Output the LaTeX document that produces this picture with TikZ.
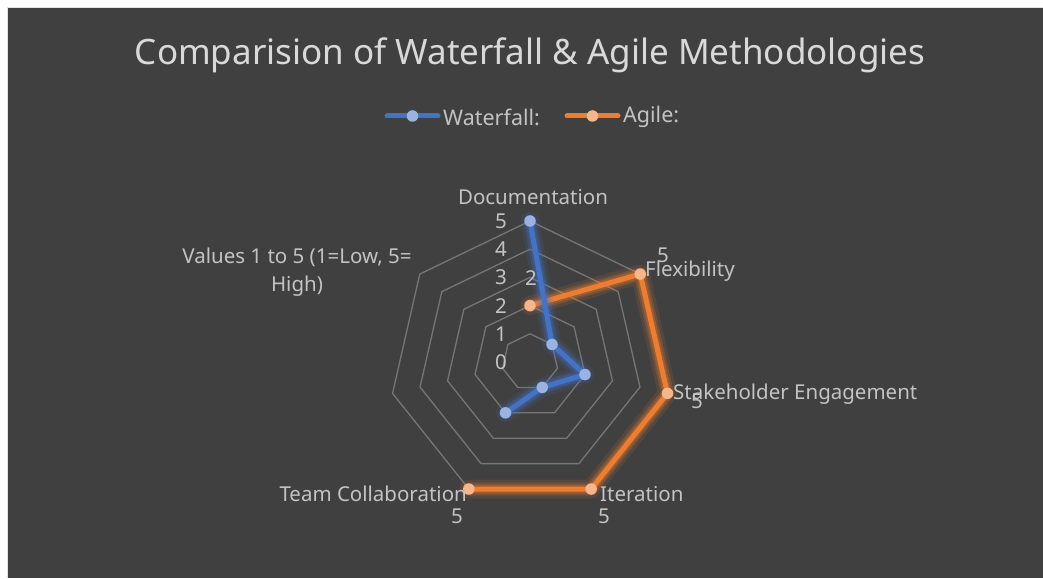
\documentclass[tikz,border=0pt]{standalone}
\usepackage{fontspec}
\setmainfont{Noto Sans}
\definecolor{bg}{HTML}{404040}
\definecolor{gridc}{HTML}{767676}
\definecolor{titlec}{HTML}{D9D9D9}
\definecolor{labc}{HTML}{C3C3C3}
\definecolor{wblue}{HTML}{4472C4}
\definecolor{wblueM}{HTML}{9AB3E2}
\definecolor{aorange}{HTML}{ED7D31}
\definecolor{aorangeM}{HTML}{F6B68C}
\tikzset{
  gridline/.style={draw=gridc, line width=1.3pt, line join=round},
  lab/.style={text=labc, font=\fontsize{20.5}{24}\selectfont, inner sep=0pt},
  serline/.style={line width=5pt, line join=round, line cap=round},
  glow/.style={line width=19pt, line join=round, line cap=round, opacity=0.12},
  glowb/.style={line width=13pt, line join=round, line cap=round, opacity=0.2},
  glowc/.style={line width=9pt, line join=round, line cap=round, opacity=0.3},
  wmark/.style={circle, fill=wblueM, minimum size=11.5pt, inner sep=0pt},
  amark/.style={circle, fill=aorangeM, minimum size=11.5pt, inner sep=0pt},
}
\begin{document}
\begin{tikzpicture}[x=1pt, y=1pt]
\useasboundingbox (0,0) rectangle (1043,578);
\fill[white] (0,0) rectangle (1043,578);
\fill[bg] (8,0) rectangle (1043,570);
\draw[titlec!80!white, line width=1pt] (7.5,0) -- (7.5,570.5) -- (1043,570.5);
% title
\node[text=titlec, font=\fontsize{35}{40}\selectfont, inner sep=0pt] (title) at (530,523) {Comparision of Waterfall \& Agile Methodologies};
% legend
\coordinate (lw1) at (387,462); \coordinate (lw2) at (438,462);
\coordinate (la1) at (567,462); \coordinate (la2) at (618,462);
\draw[wblue, serline] (lw1) -- (lw2);
\node[wmark] (lwm) at (412.5,462) {};
\node[lab, anchor=west, font=\fontsize{21.5}{24}\selectfont] (lwt) at (443,461) {Waterfall:};
\draw[aorange, serline] (la1) -- (la2);
\node[amark] (lam) at (592.5,462) {};
\node[lab, anchor=west, font=\fontsize{21.5}{24}\selectfont] (lat) at (623,461) {Agile:};
% radar grid
\begin{scope}[shift={(530,216)}]
\foreach \v in {1,...,5}{
  \draw[gridline] (90:\v*28.2pt) \foreach \k in {1,...,6}{ -- ({90-\k*360/7}:\v*28.2pt)} -- cycle;
}
% tick labels
\foreach \v in {0,...,5}{
  \node[lab, anchor=east] (tick\v) at (-23,\v*28.2) {\v};
}
% waterfall points
\coordinate (w0) at (90:5*28.2pt);
\coordinate (w1) at ({90-360/7}:1*28.2pt);
\coordinate (w2) at ({90-2*360/7}:2*28.2pt);
\coordinate (w3) at ({90-3*360/7}:1*28.2pt);
\coordinate (w4) at ({90-4*360/7}:2*28.2pt);
% agile points
\coordinate (a0) at (90:2*28.2pt);
\coordinate (a1) at ({90-360/7}:5*28.2pt);
\coordinate (a2) at ({90-2*360/7}:5*28.2pt);
\coordinate (a3) at ({90-3*360/7}:5*28.2pt);
\coordinate (a4) at ({90-4*360/7}:5*28.2pt);
\end{scope}
% agile series
\draw[aorange, glow] (a0) -- (a1) -- (a2) -- (a3) -- (a4);
\draw[aorange, glowb] (a0) -- (a1) -- (a2) -- (a3) -- (a4);
\draw[aorange, glowc] (a0) -- (a1) -- (a2) -- (a3) -- (a4);
\draw[aorange, serline] (a0) -- (a1) -- (a2) -- (a3) -- (a4);
% waterfall series
\draw[wblue, glow] (w0) -- (w1) -- (w2) -- (w3) -- (w4);
\draw[wblue, glowb] (w0) -- (w1) -- (w2) -- (w3) -- (w4);
\draw[wblue, glowc] (w0) -- (w1) -- (w2) -- (w3) -- (w4);
\draw[wblue, serline] (w0) -- (w1) -- (w2) -- (w3) -- (w4);
\foreach \i in {0,...,4}{
  \node[amark] (am\i) at (a\i) {};
  \node[wmark] (wm\i) at (w\i) {};
}
% category labels
\node[lab] (cdoc) at (533,381) {Documentation};
\node[lab, anchor=west] (cflex) at (645,307) {Flexibility};
\node[lab, anchor=west] (cstake) at (673,184) {Stakeholder Engagement};
\node[lab, anchor=west] (citer) at (600,84) {Iteration};
\node[lab, anchor=east] (cteam) at (467,84) {Team Collaboration};
\node[lab, align=center, font=\fontsize{20.5}{28}\selectfont] (cval) at (297,306) {Values 1 to 5 (1=Low, 5=\\High)};
% data labels
\node[lab] (d0) at (531,300) {2};
\node[lab] (d1) at (663,323) {5};
\node[lab] (d2) at (697,177) {5};
\node[lab] (d3) at (604,62) {5};
\node[lab] (d4) at (457,62) {5};
\end{tikzpicture}
\end{document}
